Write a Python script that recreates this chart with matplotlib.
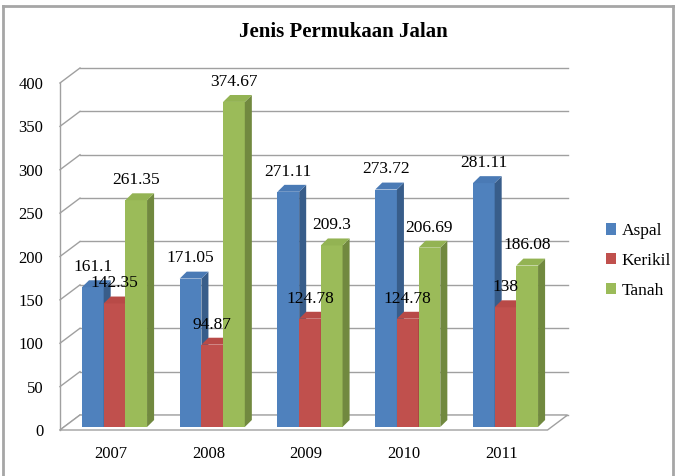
import matplotlib
matplotlib.use("Agg")
import matplotlib.pyplot as plt
from matplotlib.patches import Polygon, Patch
from matplotlib.lines import Line2D

years = ["2007", "2008", "2009", "2010", "2011"]
aspal = [161.1, 171.05, 271.11, 273.72, 281.11]
kerikil = [142.35, 94.87, 124.78, 124.78, 138]
tanah = [261.35, 374.67, 209.3, 206.69, 186.08]
series_names = ["Aspal", "Kerikil", "Tanah"]
yticks = [0, 50, 100, 150, 200, 250, 300, 350, 400]

# front / side colours per series
front_cols = ["#4F81BD", "#C0504D", "#9BBB59"]
side_cols = ["#385D8A", "#8C3836", "#71893F"]
top_cols = ["#4A7AB5", "#B84A47", "#93B353"]

plt.rcParams["font.family"] = ["Liberation Serif", "DejaVu Serif"]

W, H = 676, 476
fig = plt.figure(figsize=(W / 100, H / 100), dpi=100)

# pixel geometry of the plot
unit = 97.75          # px per category
scale = 0.8675        # px per value unit
c0 = 114.5            # px of first group centre
y0px = 430.0          # px of value 0
xlo, xhi = -0.7, 4.8
ylo, yhi = -10, 440
left_px = c0 + xlo * unit
bot_px = y0px - ylo * scale
ax = fig.add_axes([left_px / W, (H - bot_px) / H,
                   (xhi - xlo) * unit / W, (yhi - ylo) * scale / H])
ax.set_xlim(xlo, xhi)
ax.set_ylim(ylo, yhi)
for s in ax.spines.values():
    s.set_visible(False)

# 3D walls
x0 = -0.558           # front-left of the plot
x1 = 4.43             # front-right of the floor
dx, dy = 0.205, 17.3  # depth offset of back wall
grid_col = "#A0A0A0"
for v in yticks:
    ax.plot([x0, x0 + dx], [v, v + dy], color=grid_col, lw=1, zorder=1)
    ax.plot([x0 + dx, x1 + dx], [v + dy, v + dy], color=grid_col, lw=1, zorder=1)
ax.plot([x0, x0], [0, yticks[-1]], color=grid_col, lw=1, zorder=1)
floor = Polygon([(x0, 0), (x1, 0), (x1 + dx, dy), (x0 + dx, dy)],
                closed=True, facecolor="white", edgecolor=grid_col, lw=1, zorder=2)
ax.add_patch(floor)

# bars with faux depth
bw = 0.222
bdx, bdy = 0.072, 8.0
base = 3.5
offsets = [-bw, 0, bw]
z = 3
for i in range(len(years)):
    for k, vals in enumerate([aspal, kerikil, tanah]):
        v = vals[i]
        xc = i + offsets[k]
        xl, xr = xc - bw / 2, xc + bw / 2
        ax.bar(xc, v, width=bw, bottom=base, color=front_cols[k], lw=0, zorder=z)
        side = Polygon([(xr, base), (xr + bdx, base + bdy), (xr + bdx, base + v + bdy), (xr, base + v)],
                       closed=True, facecolor=side_cols[k], lw=0, zorder=z)
        top = Polygon([(xl, base + v), (xr, base + v), (xr + bdx, base + v + bdy), (xl + bdx, base + v + bdy)],
                      closed=True, facecolor=top_cols[k], lw=0, zorder=z)
        ax.add_patch(side)
        ax.add_patch(top)
        z += 1

# value labels on top of everything
for i in range(len(years)):
    for k, vals in enumerate([aspal, kerikil, tanah]):
        v = vals[i]
        ax.annotate(f"{v:g}", (i + offsets[k], base + v), xytext=(0, 14.5),
                    textcoords="offset points", ha="center", va="center",
                    fontsize=12.5, color="black", zorder=100)

ax.set_yticks(yticks)
ax.set_yticklabels([str(t) for t in yticks], fontsize=12)
ax.set_xticks([i - 0.04 for i in range(len(years))])
ax.set_xticklabels(years, fontsize=12)
ax.tick_params(axis="both", length=0)
ax.tick_params(axis="y", pad=2)
ax.tick_params(axis="x", pad=5)

fig.text(343 / W, 1 - 32 / H, "Jenis Permukaan Jalan", ha="center", va="center",
         fontsize=15, fontweight="bold")

handles = [Patch(facecolor=c, edgecolor="none") for c in front_cols]
fig.legend(handles, series_names, loc="center left", bbox_to_anchor=(599 / W, 1 - 261 / H),
           frameon=False, fontsize=12.5, handlelength=0.6, handleheight=0.6,
           handletextpad=0.3, labelspacing=0.8, borderaxespad=0)

# outer chart border
bc = "#A6A6A6"
fig.add_artist(Line2D([3 / W, 3 / W], [0, 1 - 6 / H], color=bc, lw=2))
fig.add_artist(Line2D([3 / W, 673 / W], [1 - 6 / H, 1 - 6 / H], color=bc, lw=2))
fig.add_artist(Line2D([673 / W, 673 / W], [0, 1 - 6 / H], color=bc, lw=2))

fig.savefig("out.png", dpi=100)
